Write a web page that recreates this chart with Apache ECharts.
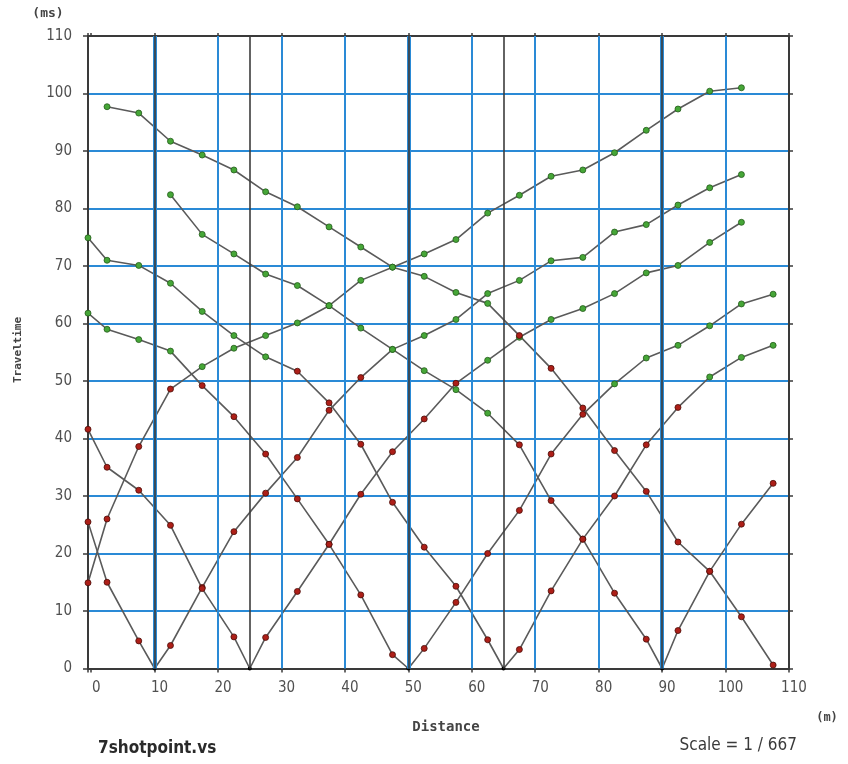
<!DOCTYPE html>
<html>
<head>
<meta charset="utf-8">
<script src="https://cdn.jsdelivr.net/npm/echarts@6/dist/echarts.min.js"></script>
<style>
  html, body { margin: 0; padding: 0; background: #ffffff; }
  #chart { width: 848px; height: 764px; }
</style>
</head>
<body>
<div id="chart"></div>
<script>
// Receiver positions (m)
const receivers = [-0.5, 2.5, 7.5, 12.5, 17.5, 22.5, 27.5, 32.5, 37.5, 42.5, 47.5, 52.5,
                   57.5, 62.5, 67.5, 72.5, 77.5, 82.5, 87.5, 92.5, 97.5, 102.5, 107.5];

// Shot positions (null = shot outside the plotted range)
const shotPos = [null, 10, 25, 50, 65, 90, null];

// Travel times (ms) for each shot, aligned with receivers
const tShot1 = [14.9, 26.0, 38.6, 48.6, 52.5, 55.7, 57.9, 60.1, 63.1, 67.5, 69.8, 72.1,
                74.6, 79.2, 82.3, 85.6, 86.7, 89.7, 93.6, 97.3, 100.4, 101.0, null];
const tShot2 = [25.5, 15.0, 4.8, 4.0, 14.1, 23.8, 30.5, 36.7, 44.9, 50.6, 55.5, 57.9,
                60.7, 65.2, 67.5, 70.9, 71.5, 75.9, 77.2, 80.6, 83.6, 85.9, null];
const tShot3 = [41.6, 35.0, 31.0, 24.9, 13.9, 5.5, 5.4, 13.4, 21.6, 30.3, 37.7, 43.4,
                49.6, 53.6, 57.6, 60.7, 62.6, 65.2, 68.8, 70.1, 74.1, 77.6, null];
const tShot4 = [61.8, 59.0, 57.2, 55.2, 49.2, 43.8, 37.3, 29.5, 21.6, 12.8, 2.4, 3.5,
                11.5, 20.0, 27.5, 37.3, 44.2, 49.5, 54.0, 56.2, 59.6, 63.4, 65.1];
const tShot5 = [74.9, 71.0, 70.1, 67.0, 62.1, 57.9, 54.2, 51.7, 46.2, 39.0, 28.9, 21.1,
                14.3, 5.0, 3.3, 13.5, 22.5, 30.0, 38.9, 45.4, 50.7, 54.1, 56.2];
const tShot6 = [null, null, null, 82.4, 75.5, 72.1, 68.6, 66.6, 63.1, 59.2, 55.5, 51.8,
                48.5, 44.4, 38.9, 29.2, 22.5, 13.1, 5.1, 6.6, 16.9, 25.1, 32.2];
const tShot7 = [null, 97.7, 96.6, 91.7, 89.3, 86.7, 82.9, 80.3, 76.8, 73.3, 69.8, 68.2,
                65.4, 63.5, 57.9, 52.2, 45.3, 37.9, 30.8, 22.0, 16.9, 9.0, 0.6];
const shotTimes = [tShot1, tShot2, tShot3, tShot4, tShot5, tShot6, tShot7];

// Phase picks: receivers at x <= greenLeftTo or x >= greenRightFrom are second-layer (green) picks
const greenLeftTo    = [null, null, null, 12.5, 27.5, 62.5, 62.5];
const greenRightFrom = [17.5, 47.5, 62.5, 82.5, 97.5, null, null];

// Axis ticks
const yTicks = [0, 10, 20, 30, 40, 50, 60, 70, 80, 90, 100, 110];
const xGrid = [10, 20, 30, 40, 50, 60, 70, 80, 90, 100];

const RED = '#ad1f18', RED_B = '#4a0c08';
const GREEN = '#46a637', GREEN_B = '#235a1a';
const BLUE = '#2a8ad6';
const FONT = "'DejaVu Sans Condensed', 'Liberation Sans', sans-serif";
const SANS = "'DejaVu Sans', 'Liberation Sans', sans-serif";
const MONO = "'DejaVu Sans Mono', 'Liberation Mono', monospace";

const chart = echarts.init(document.getElementById('chart'), null, { renderer: 'canvas' });

const series = [];

// Vertical grid lines and shot lines through markLine
const markData = [];
xGrid.forEach(v => {
  const isShot = shotPos.indexOf(v) >= 0;
  markData.push({ xAxis: v, lineStyle: { color: BLUE, width: isShot ? 4 : 2, type: 'solid' } });
});
shotPos.forEach(v => {
  if (v != null) markData.push({ xAxis: v, lineStyle: { color: '#3d3d3d', width: 1.6, type: 'solid' } });
});
series.push({
  type: 'line', data: [], z: 1, silent: true, animation: false,
  markLine: { silent: true, symbol: ['none', 'none'], label: { show: false }, animation: false, data: markData }
});

shotTimes.forEach((times, s) => {
  const pts = [];
  receivers.forEach((x, i) => {
    if (times[i] == null) return;
    const gl = greenLeftTo[s], gr = greenRightFrom[s];
    const green = (gl != null && x <= gl) || (gr != null && x >= gr);
    pts.push({
      value: [x, times[i]],
      symbolSize: 6,
      itemStyle: { color: green ? GREEN : RED, borderColor: green ? GREEN_B : RED_B, borderWidth: 0.8 }
    });
  });
  if (shotPos[s] != null) {
    pts.push({ value: [shotPos[s], 0], symbolSize: 4, itemStyle: { color: '#000', borderColor: '#000', borderWidth: 0 } });
  }
  pts.sort((a, b) => a.value[0] - b.value[0]);
  series.push({
    type: 'line', name: 'shot' + (s + 1), data: pts, z: 3,
    symbol: 'circle', showAllSymbol: true, animation: false, clip: false,
    lineStyle: { color: '#5a5a5a', width: 1.6 }
  });
});

const option = {
  backgroundColor: '#ffffff',
  animation: false,
  grid: { left: 88, right: 59, top: 36, bottom: 95.5, containLabel: false },
  xAxis: [{
    type: 'value', position: 'bottom', min: -0.5, max: 110, minInterval: 10, maxInterval: 10,
    axisLine: { show: true, onZero: false, lineStyle: { color: '#3a3a3a', width: 2 } },
    axisTick: { show: true, inside: false, length: 4, lineStyle: { color: '#3a3a3a', width: 1.5 } },
    axisLabel: { margin: 12, fontSize: 15, color: '#505050', fontFamily: FONT, padding: [0, 0, 0, 10],
                 formatter: v => (v < 0 ? '' : String(v)) },
    splitLine: { show: false }
  }, {
    type: 'value', position: 'top', min: -0.5, max: 110, minInterval: 10, maxInterval: 10,
    axisLine: { show: true, onZero: false, lineStyle: { color: '#3a3a3a', width: 2 } },
    axisTick: { show: true, inside: false, length: 3, lineStyle: { color: '#3a3a3a', width: 1.5 } },
    axisLabel: { show: false }, splitLine: { show: false }
  }],
  yAxis: [{
    type: 'value', position: 'left', min: 0, max: 110, interval: 10,
    axisLine: { show: true, onZero: false, lineStyle: { color: '#3a3a3a', width: 2 } },
    axisTick: { show: true, inside: false, length: 5, lineStyle: { color: '#3a3a3a', width: 1.5 } },
    axisLabel: { margin: 16, fontSize: 15, color: '#505050', fontFamily: FONT,
                 formatter: v => (yTicks.indexOf(v) >= 0 ? String(v) : '') },
    splitLine: { show: true, lineStyle: { color: BLUE, width: 2 } }
  }, {
    type: 'value', position: 'right', min: 0, max: 110, interval: 10,
    axisLine: { show: true, onZero: false, lineStyle: { color: '#3a3a3a', width: 2 } },
    axisTick: { show: true, inside: false, length: 4, lineStyle: { color: '#3a3a3a', width: 1.5 } },
    axisLabel: { show: false }, splitLine: { show: false }
  }],
  graphic: [
    { type: 'text', x: 48, y: 14, style: { text: '(ms)', font: 'bold 13px ' + MONO, fill: '#444', align: 'center', verticalAlign: 'middle' } },
    { type: 'text', x: 18, y: 350, rotation: Math.PI / 2, originX: 0, originY: 0,
      style: { text: 'Traveltime', font: 'bold 11px ' + MONO, fill: '#444', align: 'center', verticalAlign: 'middle' } },
    { type: 'text', x: 446, y: 727, style: { text: 'Distance', font: 'bold 14px ' + MONO, fill: '#444', align: 'center', verticalAlign: 'middle' } },
    { type: 'text', x: 827, y: 718, style: { text: '(m)', font: 'bold 12px ' + MONO, fill: '#444', align: 'center', verticalAlign: 'middle' } },
    { type: 'text', x: 98, y: 749, style: { text: '7shotpoint.vs', font: 'bold 17px ' + FONT, fill: '#2a2a2a', align: 'left', verticalAlign: 'middle' } },
    { type: 'text', x: 797, y: 746, style: { text: 'Scale = 1 / 667', font: '17px ' + FONT, fill: '#3a3a3a', align: 'right', verticalAlign: 'middle' } }
  ],
  series: series
};

chart.setOption(option);
</script>
</body>
</html>
